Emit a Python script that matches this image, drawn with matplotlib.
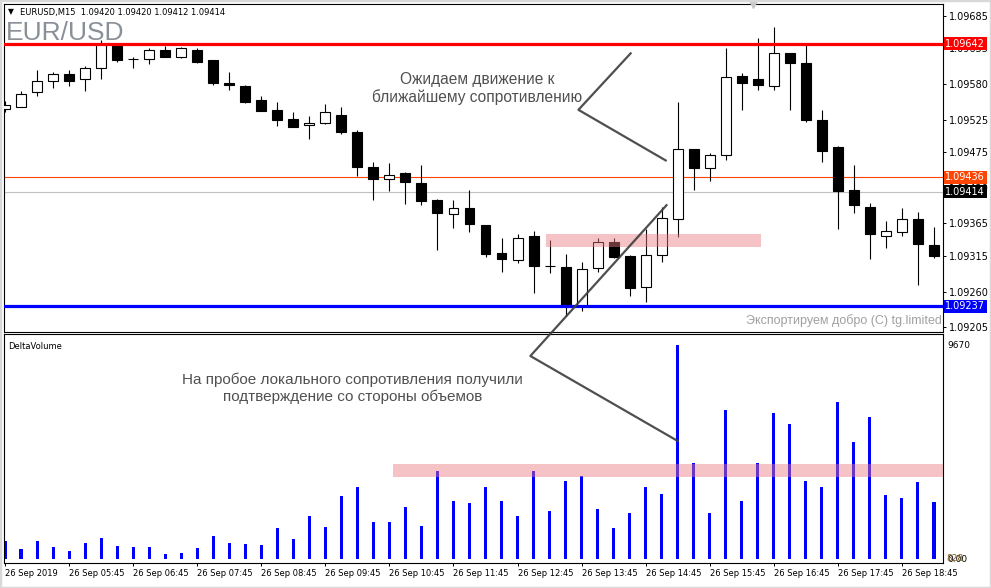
import numpy as np
import matplotlib
matplotlib.use("Agg")
import matplotlib.pyplot as plt
from matplotlib.lines import Line2D
from matplotlib.patches import Rectangle

# ---- data (EURUSD M15, 26 Sep 2019) ----
opens = [1.09541, 1.09545, 1.09567, 1.09585, 1.09595, 1.09587, 1.09605, 1.09641, 1.09618, 1.09618,
         1.09632, 1.09622, 1.09632, 1.09617, 1.09582, 1.09577, 1.09555, 1.09540, 1.09526, 1.09516,
         1.09519, 1.09532, 1.09506, 1.09452, 1.09434, 1.09442, 1.09428, 1.09401, 1.09380, 1.09388,
         1.09362, 1.09320, 1.09309, 1.09345, 1.09300, 1.09298, 1.09238, 1.09297, 1.09337, 1.09314,
         1.09267, 1.09317, 1.09372, 1.09479, 1.09451, 1.09470, 1.09592, 1.09588, 1.09576, 1.09627,
         1.09612, 1.09524, 1.09482, 1.09417, 1.09391, 1.09345, 1.09352, 1.09371, 1.09332]
highs = [1.09554, 1.09569, 1.09601, 1.09598, 1.09601, 1.09607, 1.09648, 1.09642, 1.09621, 1.09635,
         1.09638, 1.09637, 1.09635, 1.09617, 1.09598, 1.09579, 1.09562, 1.09552, 1.09536, 1.09530,
         1.09549, 1.09544, 1.09509, 1.09459, 1.09458, 1.09444, 1.09455, 1.09402, 1.09401, 1.09416,
         1.09363, 1.09343, 1.09348, 1.09353, 1.09339, 1.09318, 1.09306, 1.09343, 1.09343, 1.09317,
         1.09356, 1.09391, 1.09552, 1.09480, 1.09473, 1.09635, 1.09596, 1.09651, 1.09668, 1.09628,
         1.09640, 1.09539, 1.09484, 1.09455, 1.09397, 1.09368, 1.09389, 1.09382, 1.09360]
lows = [1.09537, 1.09544, 1.09561, 1.09574, 1.09576, 1.09569, 1.09588, 1.09614, 1.09605, 1.09611,
        1.09622, 1.09620, 1.09612, 1.09579, 1.09571, 1.09551, 1.09538, 1.09515, 1.09513, 1.09495,
        1.09518, 1.09503, 1.09438, 1.09401, 1.09415, 1.09395, 1.09393, 1.09324, 1.09358, 1.09352,
        1.09313, 1.09290, 1.09304, 1.09258, 1.09288, 1.09222, 1.09230, 1.09290, 1.09312, 1.09253,
        1.09244, 1.09305, 1.09344, 1.09417, 1.09430, 1.09462, 1.09539, 1.09571, 1.09571, 1.09539,
        1.09521, 1.09460, 1.09356, 1.09381, 1.09310, 1.09327, 1.09345, 1.09270, 1.09312]
closes = [1.09547, 1.09565, 1.09585, 1.09595, 1.09585, 1.09605, 1.09642, 1.09616, 1.09618, 1.09632,
          1.09622, 1.09635, 1.09614, 1.09582, 1.09578, 1.09552, 1.09538, 1.09525, 1.09514, 1.09519,
          1.09536, 1.09506, 1.09452, 1.09434, 1.09440, 1.09429, 1.09400, 1.09381, 1.09389, 1.09364,
          1.09318, 1.09310, 1.09343, 1.09299, 1.09299, 1.09239, 1.09295, 1.09337, 1.09313, 1.09266,
          1.09317, 1.09374, 1.09479, 1.09451, 1.09471, 1.09590, 1.09582, 1.09578, 1.09627, 1.09612,
          1.09525, 1.09477, 1.09415, 1.09394, 1.09348, 1.09354, 1.09371, 1.09334, 1.09315]

delta_volume = [813, 452, 813, 542, 361, 723, 949, 587, 542, 542,
                226, 271, 497, 1039, 723, 678, 633, 1401, 904, 1943,
                1446, 2847, 3254, 1672, 1672, 2350, 1491, 3977, 2621, 2531,
                3254, 2621, 1943, 3977, 2169, 3525, 3751, 2260, 1401, 2079,
                3254, 2937, 9670, 4338, 2079, 6733, 2621, 4338, 6597, 6100,
                3525, 3254, 7094, 5287, 6417, 2892, 2756, 3480, 2576]

time_labels = ["26 Sep 2019", "26 Sep 05:45", "26 Sep 06:45", "26 Sep 07:45", "26 Sep 08:45",
               "26 Sep 09:45", "26 Sep 10:45", "26 Sep 11:45", "26 Sep 12:45", "26 Sep 13:45",
               "26 Sep 14:45", "26 Sep 15:45", "26 Sep 16:45", "26 Sep 17:45", "26 Sep 18:45"]

price_ticks = [1.09685, 1.09635, 1.09580, 1.09525, 1.09475, 1.09420, 1.09365, 1.09315, 1.09260, 1.09205]
resistance = 1.09642
support = 1.09237
ask_price = 1.09436
bid_price = 1.09414

zone_price = (1.09328, 1.09348)   # pink box on the price panel
zone_bars = (33.75, 47.2)
vol_zone = (3705, 4293)           # pink band on the volume panel
vol_zone_bars = (24.25, 58.6)

W, H = 991, 588
fig = plt.figure(figsize=(W / 100, H / 100), dpi=100)
fig.patch.set_facecolor("white")


def px_box(l, t, r, b):
    return [l / W, (H - b) / H, (r - l) / W, (b - t) / H]


ax1 = fig.add_axes(px_box(4, 4.3, 943, 331.5))
ax2 = fig.add_axes(px_box(4, 334, 943, 563))

n = len(opens)
x = np.arange(n)
o = np.array(opens)
c = np.array(closes)
hi = np.array(highs)
lo = np.array(lows)

xlim = (-0.0625, 58.5625)

# ---- price panel ----
ax1.set_xlim(*xlim)
ax1.set_ylim(1.091984, 1.097026)
ax1.axhline(ask_price, color="#ff4500", lw=0.8, zorder=1)
ax1.axhline(bid_price, color="#c0c0c0", lw=0.8, zorder=1)
ax1.vlines(x, lo, hi, color="black", lw=0.8, zorder=2)
bull = c >= o
body_h = np.maximum(np.abs(c - o), 0.0000015)
ax1.bar(x, body_h, bottom=np.minimum(o, c), width=0.62,
        color=np.where(bull & (c != o), "white", "black"), edgecolor="black", lw=0.8, zorder=3)
ax1.axhline(resistance, color="#ff0000", lw=2.3, zorder=4)
ax1.axhline(support, color="#0000ff", lw=2.3, zorder=4)
ax1.add_patch(Rectangle((zone_bars[0], zone_price[0]), zone_bars[1] - zone_bars[0],
                        zone_price[1] - zone_price[0], facecolor="#eb7882", alpha=0.45,
                        edgecolor="none", zorder=5))

ax1.yaxis.tick_right()
ax1.set_yticks(price_ticks)
ax1.set_yticklabels([f"{v:.5f}" for v in price_ticks])
ax1.tick_params(axis="y", length=2.5, width=0.7, pad=1.5, labelsize=7, colors="black")
ax1.set_xticks([])
for s in ax1.spines.values():
    s.set_linewidth(0.8)

ytr = ax1.get_yaxis_transform()
for val, fc, tc in [(resistance, "#ff0000", "white"), (ask_price, "#ff4500", "white"),
                    (bid_price, "#000000", "white"), (support, "#0000ff", "white")]:
    ax1.text(1.0025, val, f"{val:.5f}", transform=ytr, ha="left", va="center", fontsize=7,
             color=tc, zorder=10, bbox=dict(boxstyle="square,pad=0.18", fc=fc, ec="none"))

ax1.plot([46.7], [1.0], marker="v", color="#c8c8c8", ms=6, transform=ax1.get_xaxis_transform(),
         clip_on=False, zorder=10)

ax1.text(29.5, 1.09573, "Ожидаем движение к\nближайшему сопротивлению", ha="center", va="center",
         fontsize=11.2, family="Liberation Sans", color="#505050", linespacing=1.2, zorder=6)
ax1.text(0.9985, 0.032, "Экспортируем добро (C) tg.limited", transform=ax1.transAxes, ha="right",
         va="center", fontsize=9, family="Liberation Sans", color="#a0a0a0", zorder=6)

# ---- volume panel ----
ax2.set_xlim(*xlim)
ax2.set_ylim(-181, 10167)
ax2.bar(x, delta_volume, width=0.19, color="#0000ff", zorder=2)
ax2.add_patch(Rectangle((vol_zone_bars[0], vol_zone[0]), vol_zone_bars[1] - vol_zone_bars[0],
                        vol_zone[1] - vol_zone[0], facecolor="#eb7882", alpha=0.45,
                        edgecolor="none", zorder=3))
ax2.yaxis.tick_right()
ax2.set_yticks([0, 9670])
ax2.set_yticklabels(["0.00", "9670"])
ax2.tick_params(axis="y", length=0, pad=3, labelsize=6.5)
ax2.text(1.004, 0, "828", transform=ax2.get_yaxis_transform(), ha="left", va="center",
         fontsize=6.5, color="#7a5a20")
ax2.set_xticks(x[::4])
ax2.set_xticklabels(time_labels)
ax2.tick_params(axis="x", length=2.5, width=0.7, pad=1.5, labelsize=6)
for lab in ax2.get_xticklabels():
    lab.set_ha("left")
for s in ax2.spines.values():
    s.set_linewidth(0.8)
ax2.text(0.004, 0.965, "DeltaVolume", transform=ax2.transAxes, ha="left", va="top", fontsize=6)
ax2.text(21.7, 7727, "На пробое локального сопротивления получили\nподтверждение со стороны объемов",
         ha="center", va="center", fontsize=11, family="Liberation Sans", color="#505050",
         linespacing=1.2, zorder=6)

# ---- header ----
fig.text(8 / W, 1 - 12 / H, "▼", fontsize=5.5, va="center", ha="left")
fig.text(20 / W, 1 - 12 / H, "EURUSD,M15  1.09420 1.09420 1.09412 1.09414", fontsize=6,
         va="center", ha="left")
fig.text(6 / W, 1 - 39.5 / H, "EUR/USD", fontsize=19, family="Liberation Sans", color="#8a9098",
         va="baseline", ha="left")


# ---- annotation lines ----
def to_fig(ax, px, py):
    d = ax.transData.transform((px, py))
    return fig.transFigure.inverted().transform(d)


line1 = [to_fig(ax1, 39.06, 1.09627), to_fig(ax1, 35.8, 1.09540), to_fig(ax1, 41.25, 1.09462)]
line2 = [to_fig(ax1, 41.3, 1.09393), to_fig(ax2, 32.8, 9173), to_fig(ax2, 42.0, 5332)]
for pts in (line1, line2):
    pts = np.array(pts)
    fig.add_artist(Line2D(pts[:, 0], pts[:, 1], transform=fig.transFigure, color="#3c3c3c",
                          lw=1.6, alpha=0.9, zorder=20))

fig.add_artist(Rectangle((0, 0), 1, 1, transform=fig.transFigure, fill=False,
                         edgecolor="#d8d8d8", lw=2.5))

fig.savefig("out.png", dpi=100)
